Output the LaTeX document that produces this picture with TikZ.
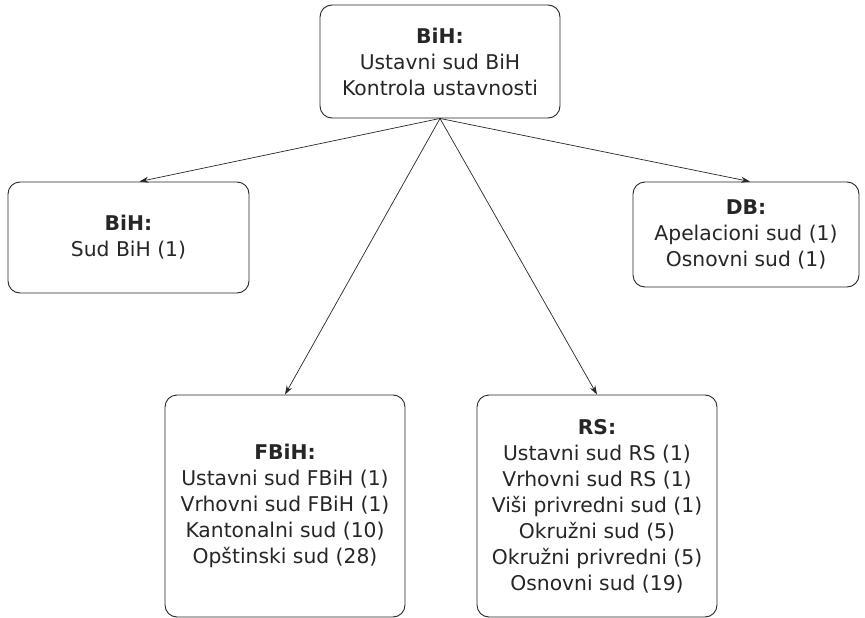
\documentclass[tikz,border=0pt]{standalone}
\usepackage{fontspec}
\setmainfont{DejaVu Sans}
\usetikzlibrary{arrows.meta}
\begin{document}
\begin{tikzpicture}[x=1pt,y=-1pt,
  box/.style={draw=black!85, line width=0.9pt, rounded corners=12pt, align=center,
    font=\fontsize{20.3}{26}\selectfont, text=black!85, inner sep=0pt},
  arr/.style={-{Stealth[length=9pt,width=6pt]}, line width=0.7pt, draw=black!85}]
\useasboundingbox (0,0) rectangle (865,618);
\node[box, minimum width=240pt, minimum height=113pt] (top) at (440,61.5)
  {\textbf{BiH:}\\Ustavni sud BiH\\Kontrola ustavnosti};
\node[box, minimum width=241pt, minimum height=111pt] (bih) at (128.5,237.5)
  {\textbf{BiH:}\\Sud BiH (1)};
\node[box, minimum width=226pt, minimum height=105pt] (db) at (746,234.5)
  {\textbf{DB:}\\Apelacioni sud (1)\\Osnovni sud (1)};
\node[box, minimum width=240pt, minimum height=222pt] (fbih) at (285,506)
  {\textbf{FBiH:}\\Ustavni sud FBiH (1)\\Vrhovni sud FBiH (1)\\Kantonalni sud (10)\\Opštinski sud (28)};
\node[box, minimum width=240pt, minimum height=222pt] (rs) at (597,506)
  {\textbf{RS:}\\Ustavni sud RS (1)\\Vrhovni sud RS (1)\\Viši privredni sud (1)\\Okružni sud (5)\\Okružni privredni (5)\\Osnovni sud (19)};
\draw[arr] (top.south) -- ([xshift=11pt]bih.north);
\draw[arr] (top.south) -- (fbih.north);
\draw[arr] (top.south) -- (rs.north);
\draw[arr] (top.south) -- ([xshift=4pt]db.north);
\end{tikzpicture}
\end{document}
